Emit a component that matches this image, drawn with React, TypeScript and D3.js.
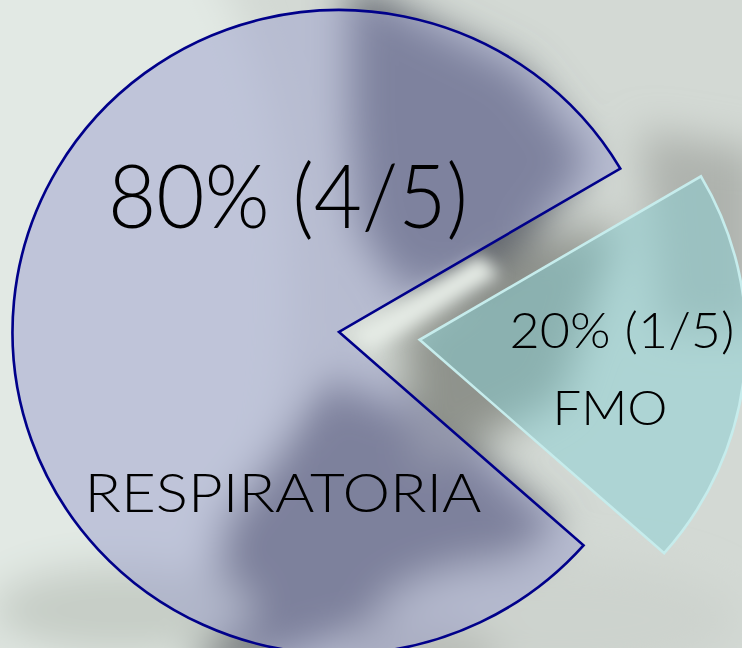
import React from "react";
import * as d3 from "d3";

const categories = ["RESPIRATORIA", "FMO"];
const values = [4, 1];
const totals = 5;
const percentLabels = ["80% (4/5)", "20% (1/5)"];

const W = 742;
const H = 648;

export default function App() {
  const cx = 339;
  const cy = 332;
  const radius = 322;
  const sx = 1.014;
  const startDeg = 131.5;
  const pie = d3
    .pie<number>()
    .sort(null)
    .startAngle((startDeg * Math.PI) / 180)
    .endAngle((startDeg * Math.PI) / 180 + 2 * Math.PI);
  const arcs = pie(values);
  const arc = d3.arc<d3.PieArcDatum<number>>().innerRadius(0).outerRadius(radius);
  const explode = 81;

  const fills = ["#9b9fce", "#87d0d4"];
  const fillOp = [0.5, 0.5];
  const strokes = ["#00008a", "#c6ecec"];

  const font = "Lato, 'Open Sans', sans-serif";

  return (
    <svg
      width={W}
      height={H}
      style={{ position: "fixed", left: 0, top: 0 }}
      viewBox={`0 0 ${W} ${H}`}
    >
      <defs>
        <filter id="blur" x="-20%" y="-20%" width="140%" height="140%">
          <feGaussianBlur stdDeviation="20" />
        </filter>
        <filter id="blur2" x="-20%" y="-20%" width="140%" height="140%">
          <feGaussianBlur stdDeviation="8" />
        </filter>
      </defs>
      {/* blurred photo-like background */}
      <rect x={0} y={0} width={W} height={H} fill="#d3d9d4" />
      <g filter="url(#blur)">
        <ellipse cx={90} cy={300} rx={200} ry={420} fill="#e2e9e4" />
        <polygon points="350,-20 420,20 520,70 590,160 500,280 400,290 360,230 350,120" fill="#60656e" />
        <polygon points="330,380 450,430 560,530 470,590 330,640 200,680 220,520" fill="#5e626b" />
        <polygon points="640,130 760,150 760,330 660,330" fill="#aeb2ad" />
        <polygon points="400,330 520,250 620,220 560,400 420,470" fill="#8f938c" />
        <ellipse cx={120} cy={610} rx={130} ry={45} fill="#c6cdc6" />
        <ellipse cx={560} cy={620} rx={180} ry={60} fill="#cdd3ce" />
        <ellipse cx={420} cy={660} rx={80} ry={40} fill="#b9bdb8" />
      </g>
      <g filter="url(#blur2)">
        <polygon points="350,335 480,255 500,275 370,350" fill="#e6ece6" />
      </g>

      {arcs.map((a, i) => {
        const mid = (a.startAngle + a.endAngle) / 2;
        const off = i === 1 ? explode : 0;
        const dx = Math.sin(mid) * off;
        const dy = -Math.cos(mid) * off;
        return (
          <path
            key={categories[i]}
            d={arc(a) || ""}
            transform={`translate(${cx + dx},${cy + dy}) scale(${sx},1)`}
            fill={fills[i]}
            fillOpacity={fillOp[i]}
            stroke={strokes[i]}
            strokeWidth={2.6}
            strokeLinejoin="miter"
          />
        );
      })}

      <g fontFamily={font} fontWeight={300} fill="#000" textAnchor="middle">
        <text
          x={cx - 51}
          y={cy - 104}
          fontSize={88}
          textLength={360}
          lengthAdjust="spacingAndGlyphs"
        >
          {percentLabels[0]}
        </text>
        <text
          x={cx - 56}
          y={cy + 180}
          fontSize={54}
          textLength={397}
          lengthAdjust="spacingAndGlyphs"
        >
          {categories[0]}
        </text>
        <text
          x={cx + 283}
          y={cy + 16}
          fontSize={50}
          textLength={225}
          lengthAdjust="spacingAndGlyphs"
        >
          {percentLabels[1]}
        </text>
        <text
          x={cx + 271}
          y={cy + 93}
          fontSize={47}
          textLength={115}
          lengthAdjust="spacingAndGlyphs"
        >
          {categories[1]}
        </text>
      </g>
      <desc>{`total ${totals}`}</desc>
    </svg>
  );
}
